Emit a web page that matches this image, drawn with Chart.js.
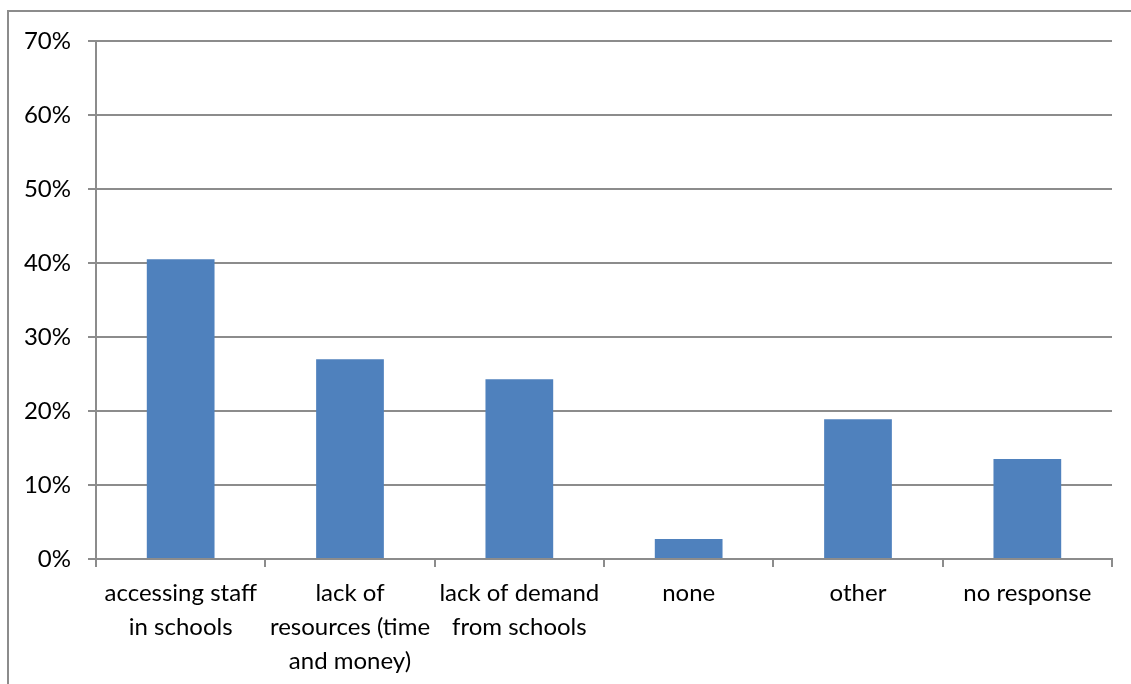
<!DOCTYPE html>
<html><head><meta charset="utf-8">
<script src="https://cdn.jsdelivr.net/npm/chart.js@4/dist/chart.umd.min.js"></script>
<style>
html,body{margin:0;padding:0;background:#fff;}
#wrap{position:relative;width:1131px;height:684px;overflow:hidden;}
#frame{position:absolute;left:7px;top:10px;width:1200px;height:800px;border-left:2px solid #8c8c8c;border-top:2px solid #8c8c8c;}
canvas{position:absolute;left:0;top:0;}
</style></head>
<body><div id="wrap"><div id="frame"></div><canvas id="c" width="1131" height="684"></canvas></div>
<script>
const categories = [["accessing staff","in schools"],["lack of","resources (time","and money)"],["lack of demand","from schools"],"none","other","no response"];
const values = [40.5, 27.0, 24.3, 2.7, 18.9, 13.5];
const yTicks = [0,10,20,30,40,50,60,70];
const FONT = 'Lato, "Open Sans", sans-serif';

new Chart(document.getElementById('c'), {
  type:'bar',
  data:{labels:categories,datasets:[{data:values,backgroundColor:'#4F81BD',borderWidth:0,categoryPercentage:1,barPercentage:0.4}]},
  options:{
    responsive:false,animation:false,
    layout:{padding:{left:0,right:19,top:41,bottom:0}},
    plugins:{legend:{display:false},tooltip:{enabled:false}},
    scales:{
      x:{
        grid:{offset:true,drawOnChartArea:false,drawTicks:true,tickLength:8,color:'#8c8c8c',lineWidth:2},
        border:{color:'#8c8c8c',width:2},
        ticks:{color:'#000',font:{family:FONT,size:24,lineHeight:1.42},padding:9,maxRotation:0,autoSkip:false},
        afterFit:(s)=>{s.height=125;}
      },
      y:{
        min:0,max:70,
        afterBuildTicks:(s)=>{s.ticks=yTicks.map(v=>({value:v}));},
        grid:{color:'#8c8c8c',lineWidth:2,tickLength:8,drawTicks:true},
        border:{color:'#8c8c8c',width:2},
        ticks:{color:'#000',font:{family:FONT,size:24},padding:17,callback:v=>v+'%'},
        afterFit:(s)=>{s.width=96;}
      }
    }
  }
});
</script></body></html>
